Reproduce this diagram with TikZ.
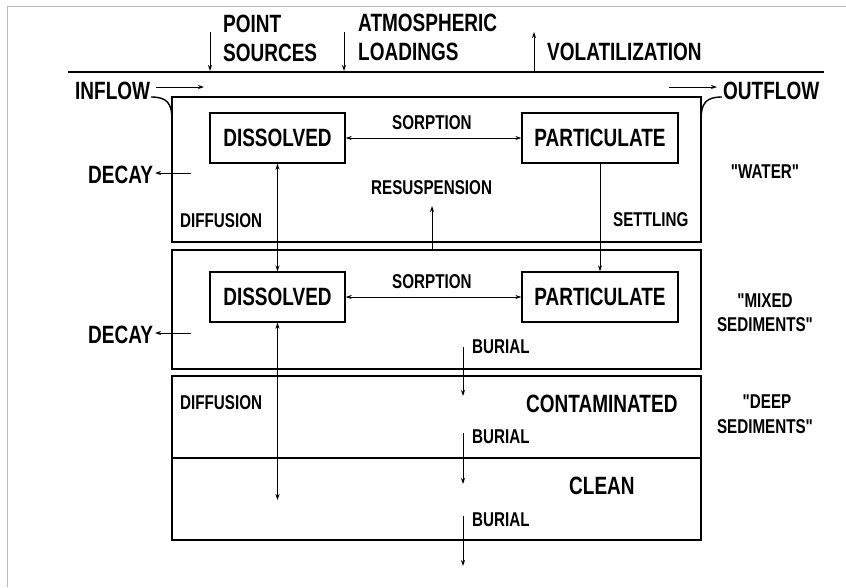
\documentclass[tikz,border=0pt]{standalone}
\usepackage{fontspec}
\newfontfamily\cond[FakeStretch=0.76]{Liberation Sans}
\usetikzlibrary{arrows.meta}
\tikzset{
  big/.style={inner sep=0pt, font=\cond\bfseries\fontsize{25}{27}\selectfont},
  small/.style={inner sep=0pt, font=\cond\bfseries\fontsize{20}{22}\selectfont},
  layer/.style={draw, line width=1.6pt, minimum width=529pt, inner sep=0pt},
  comp/.style={draw, line width=1.4pt, minimum width=#1, minimum height=50pt, inner sep=0pt, font=\cond\bfseries\fontsize{25}{27}\selectfont},
  flow/.style={line width=0.9pt, -{Stealth[length=6pt,width=4pt]}},
  biflow/.style={line width=0.9pt, {Stealth[length=6pt,width=4pt]}-{Stealth[length=6pt,width=4pt]}},
  thick line/.style={line width=1.6pt}
}
\begin{document}
\begin{tikzpicture}[x=1pt,y=-1pt]
\useasboundingbox (0,0) rectangle (846,587);
% frame
\draw[gray!55, line width=1pt] (7,587) -- (7,6) -- (846,6);
% surface
\coordinate (sl) at (68,72);
\coordinate (sr) at (824,72);
\draw[thick line] (sl) -- (sr);
% top labels
\node[big, anchor=base west] (pt) at (223,32) {POINT};
\node[big, anchor=base west] (ps) at (223,61) {SOURCES};
\node[big, anchor=base west] (at) at (358,31) {ATMOSPHERIC};
\node[big, anchor=base west] (al) at (358,60) {LOADINGS};
\node[big, anchor=base west] (vo) at (547,60) {VOLATILIZATION};
\coordinate (ps1) at (210,32); \coordinate (ps2) at (210,71);
\coordinate (al1) at (344,32); \coordinate (al2) at (344,71);
\coordinate (vo1) at (534,71); \coordinate (vo2) at (534,32);
\draw[flow] (ps1) -- (ps2);
\draw[flow] (al1) -- (al2);
\draw[flow] (vo1) -- (vo2);
% layers
\node[layer, minimum height=145pt] (water) at (436.5,169.5) {};
\node[layer, minimum height=119pt] (mixed) at (436.5,309.5) {};
\node[layer, minimum height=82pt] (cont) at (436.5,417) {};
\node[layer, minimum height=82pt] (clean) at (436.5,499) {};
% inflow / outflow
\node[big, anchor=base west] (inflow) at (75,99) {INFLOW};
\node[big, anchor=base west] (outflow) at (723,99) {OUTFLOW};
\coordinate (in1) at (156,87); \coordinate (in2) at (204,87);
\coordinate (out1) at (669,87); \coordinate (out2) at (717,87);
\draw[flow] (in1) -- (in2);
\draw[flow] (out1) -- (out2);
\coordinate (ic0) at (151,97); \coordinate (ic1) at (172,120);
\coordinate (oc0) at (701,120); \coordinate (oc1) at (722,97);
\draw[line width=1.4pt] (ic0) .. controls (167,97) and (172,103) .. (ic1);
\draw[line width=1.4pt] (oc0) .. controls (701,103) and (706,97) .. (oc1);
% compartments
\node[comp=135pt] (dw) at (277.5,138) {DISSOLVED};
\node[comp=156pt] (pw) at (600,138) {PARTICULATE};
\node[comp=135pt] (dm) at (277.5,297) {DISSOLVED};
\node[comp=156pt] (pm) at (600,297) {PARTICULATE};
\draw[biflow] (dw) -- (pw);
\draw[biflow] (dm) -- (pm);
\node[small, anchor=base west] (sw) at (392,129) {SORPTION};
\node[small, anchor=base west] (sm) at (392,288) {SORPTION};
% decay
\node[big, anchor=base west] (d1) at (88,183) {DECAY};
\node[big, anchor=base west] (d2) at (88,343) {DECAY};
\coordinate (d1a) at (191,173); \coordinate (d1b) at (155,173);
\coordinate (d2a) at (191,333); \coordinate (d2b) at (155,333);
\draw[flow] (d1a) -- (d1b);
\draw[flow] (d2a) -- (d2b);
% diffusion
\node[small, anchor=base west] (df1) at (180,227) {DIFFUSION};
\node[small, anchor=base west] (df2) at (180,409) {DIFFUSION};
\draw[biflow] (dw.south) -- (dm.north);
\coordinate (dfe) at (277.5,500);
\draw[biflow] (dm.south) -- (dfe);
% resuspension & settling
\node[small, anchor=base west] (rs) at (371,194) {RESUSPENSION};
\coordinate (rs1) at (432,250); \coordinate (rs2) at (432,206);
\draw[flow] (rs1) -- (rs2);
\node[small, anchor=base west] (st) at (613,226) {SETTLING};
\draw[flow] (pw.south) -- (pm.north);
% deep labels
\node[big, anchor=base west] (ct) at (526,412) {CONTAMINATED};
\node[big, anchor=base west] (cl) at (569,494) {CLEAN};
% burial
\node[small, anchor=base west] (b1) at (472,353) {BURIAL};
\node[small, anchor=base west] (b2) at (472,443) {BURIAL};
\node[small, anchor=base west] (b3) at (472,526) {BURIAL};
\coordinate (b1a) at (463,347); \coordinate (b1b) at (463,396);
\coordinate (b2a) at (463,433); \coordinate (b2b) at (463,484);
\coordinate (b3a) at (463,516); \coordinate (b3b) at (463,566);
\draw[flow] (b1a) -- (b1b);
\draw[flow] (b2a) -- (b2b);
\draw[flow] (b3a) -- (b3b);
% side labels
\node[small, anchor=base] (wl) at (765,178) {"WATER"};
\node[small, anchor=base] (ml1) at (765,307) {"MIXED};
\node[small, anchor=base] (ml2) at (765,331) {SEDIMENTS"};
\node[small, anchor=base] (dl1) at (767,408) {"DEEP};
\node[small, anchor=base] (dl2) at (765,433) {SEDIMENTS"};
\end{tikzpicture}
\end{document}
